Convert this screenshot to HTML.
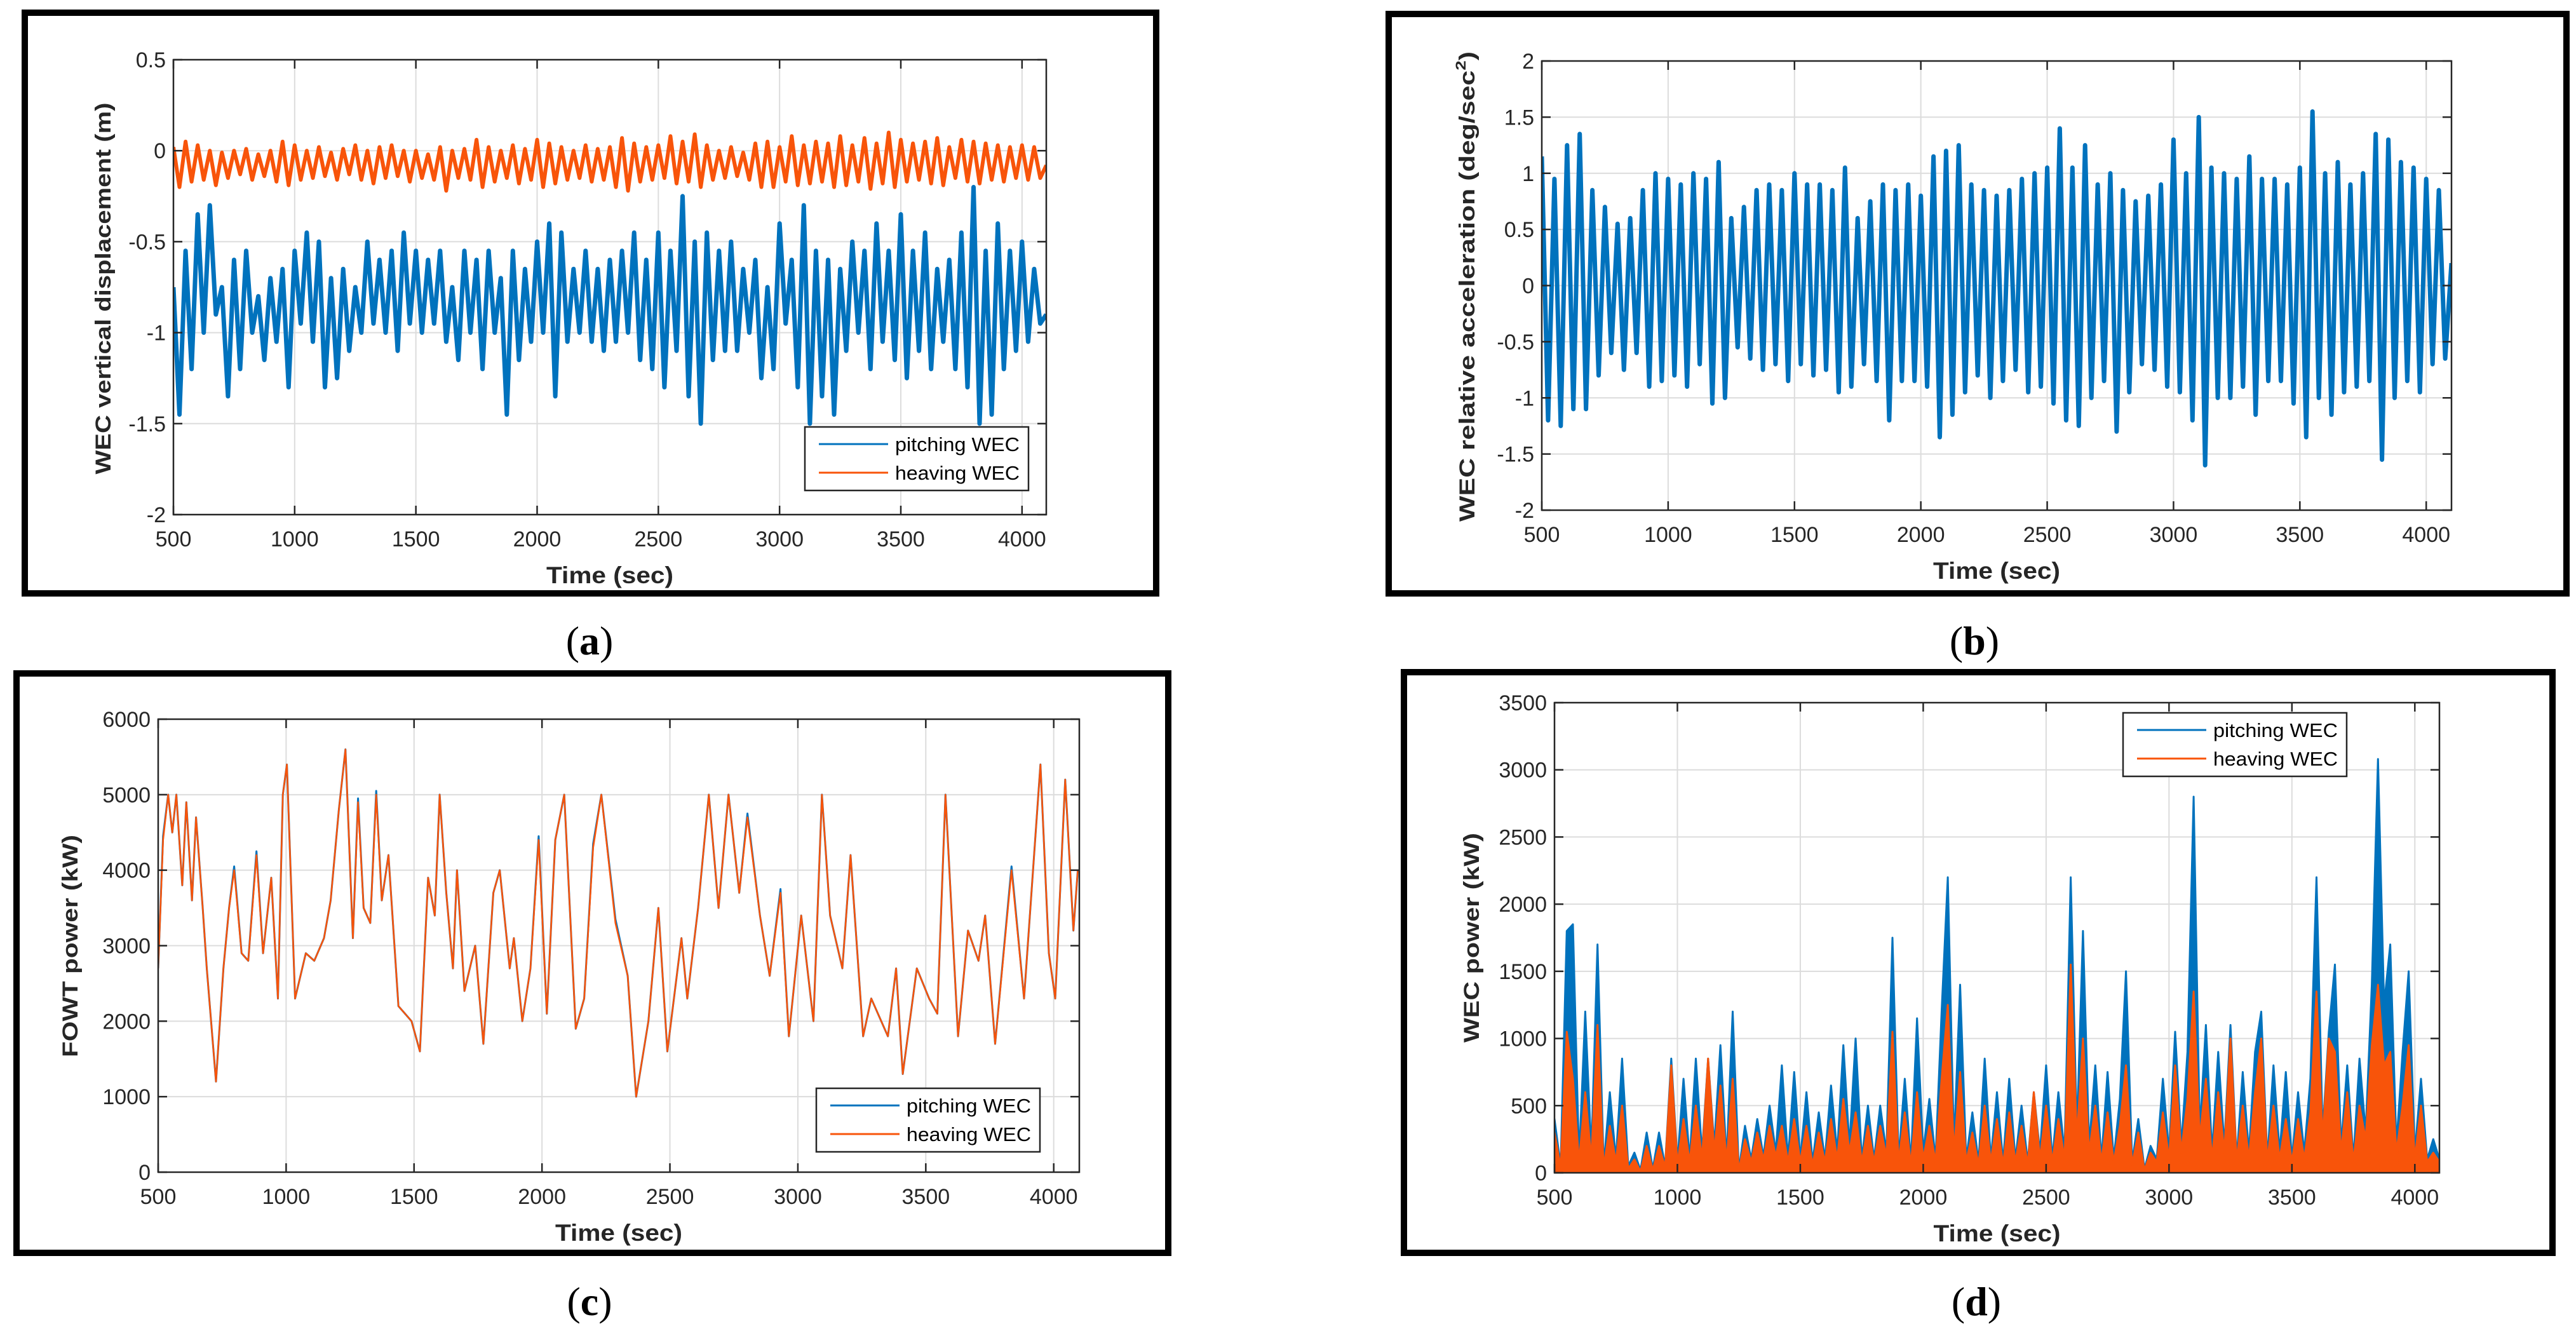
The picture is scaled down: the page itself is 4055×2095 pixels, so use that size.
<!DOCTYPE html>
<html><head><meta charset="utf-8"><style>
html,body{margin:0;padding:0;background:#fff;}
svg{display:block;}
</style></head><body>
<svg id="fig" width="4055" height="2095" viewBox="0 0 4055 2095" xmlns="http://www.w3.org/2000/svg" font-family="Liberation Sans, Arial, sans-serif"></svg>
<script>
// ---------- shared axis data ----------
const tStart = 500, tStep = 25;
const xTickVals = [500,1000,1500,2000,2500,3000,3500,4000];
const xTickLabels = ["500","1000","1500","2000","2500","3000","3500","4000"];

// ---------- panel (a) ----------
const aYTicks = [-2,-1.5,-1,-0.5,0,0.5];
const aYTickLabels = ["-2","-1.5","-1","-0.5","0","0.5"];
const aPitching = [
-0.75,-1.45,-0.55,-1.2, -0.35,-1.0,-0.3,-0.9, -0.75,-1.35,-0.6,-1.2, -0.55,-1.0,-0.8,-1.15,
-0.7,-1.05,-0.65,-1.3, -0.55,-0.95,-0.45,-1.05, -0.5,-1.3,-0.7,-1.25, -0.65,-1.1,-0.75,-1.0,
-0.5,-0.95,-0.6,-1.0, -0.55,-1.1,-0.45,-0.95, -0.55,-1.0,-0.6,-0.95, -0.55,-1.05,-0.75,-1.15,
-0.55,-1.0,-0.6,-1.2, -0.55,-1.0,-0.7,-1.45, -0.55,-1.15,-0.65,-1.05, -0.5,-1.0,-0.4,-1.35,
-0.45,-1.05,-0.65,-1.0, -0.55,-1.05,-0.65,-1.1, -0.6,-1.05,-0.55,-1.0, -0.45,-1.15,-0.6,-1.2,
-0.45,-1.3,-0.55,-1.1, -0.25,-1.35,-0.5,-1.5, -0.45,-1.15,-0.55,-1.1, -0.5,-1.1,-0.65,-1.0,
-0.6,-1.25,-0.75,-1.2, -0.4,-0.95,-0.6,-1.3, -0.3,-1.5,-0.55,-1.35, -0.6,-1.45,-0.65,-1.1,
-0.5,-1.0,-0.55,-1.2, -0.4,-1.05,-0.55,-1.15, -0.35,-1.25,-0.55,-1.1, -0.45,-1.2,-0.65,-1.05,
-0.6,-1.2,-0.45,-1.3, -0.2,-1.5,-0.55,-1.45, -0.4,-1.2,-0.55,-1.1, -0.5,-1.05,-0.65,-0.95, -0.9];
const aHeaving = [
0.02,-0.2,0.05,-0.17, 0.03,-0.16,0.0,-0.19, -0.01,-0.15,0.0,-0.13, 0.01,-0.16,-0.02,-0.14,
0.0,-0.17,0.05,-0.19, 0.03,-0.16,0.0,-0.15, 0.02,-0.14,-0.01,-0.16, 0.01,-0.13,0.03,-0.16,
0.0,-0.18,0.02,-0.15, 0.03,-0.14,0.0,-0.17, 0.0,-0.15,-0.02,-0.16, 0.02,-0.22,0.0,-0.15,
0.01,-0.16,0.06,-0.2, 0.02,-0.17,0.0,-0.15, 0.03,-0.18,0.01,-0.16, 0.06,-0.2,0.04,-0.18,
0.02,-0.16,0.0,-0.15, 0.03,-0.17,0.01,-0.16, 0.02,-0.2,0.07,-0.22, 0.04,-0.17,0.02,-0.16,
0.03,-0.15,0.08,-0.18, 0.05,-0.17,0.09,-0.2, 0.03,-0.16,0.0,-0.15, 0.02,-0.14,-0.01,-0.16,
0.04,-0.2,0.05,-0.2, 0.02,-0.17,0.08,-0.19, 0.03,-0.18,0.05,-0.17, 0.04,-0.2,0.08,-0.19,
0.03,-0.17,0.07,-0.21, 0.04,-0.18,0.1,-0.2, 0.06,-0.17,0.04,-0.16, 0.05,-0.18,0.07,-0.19,
0.02,-0.15,0.06,-0.17, 0.05,-0.18,0.04,-0.16, 0.03,-0.17,0.02,-0.15, 0.03,-0.16,0.02,-0.15, -0.08];

// ---------- panel (b) ----------
const bYTicks = [-2,-1.5,-1,-0.5,0,0.5,1,1.5,2];
const bYTickLabels = ["-2","-1.5","-1","-0.5","0","0.5","1","1.5","2"];
const bPitching = [
1.15,-1.2,0.95,-1.25, 1.25,-1.1,1.35,-1.1, 0.85,-0.8,0.7,-0.6, 0.55,-0.75,0.6,-0.6,
0.85,-0.9,1.0,-0.85, 0.95,-0.8,0.9,-0.9, 1.0,-0.7,0.95,-1.05, 1.1,-1.0,0.6,-0.55,
0.7,-0.65,0.85,-0.75, 0.9,-0.7,0.85,-0.85, 1.0,-0.7,0.9,-0.8, 0.9,-0.75,0.85,-0.95,
1.05,-0.9,0.6,-0.7, 0.75,-0.85,0.9,-1.2, 0.85,-0.85,0.9,-0.85, 0.8,-0.9,1.15,-1.35,
1.2,-1.15,1.25,-0.95, 0.9,-0.8,0.85,-1.0, 0.8,-0.85,0.85,-0.75, 0.95,-0.95,1.0,-0.9,
1.05,-1.05,1.4,-1.2, 1.05,-1.25,1.25,-1.0, 0.9,-0.85,1.0,-1.3, 0.85,-0.95,0.75,-0.7,
0.8,-0.75,0.9,-0.9, 1.3,-0.95,1.0,-1.2, 1.5,-1.6,1.05,-1.0, 1.0,-1.0,0.95,-0.9,
1.15,-1.15,0.95,-0.85, 0.95,-0.85,0.9,-1.05, 1.05,-1.35,1.55,-1.0, 1.0,-1.15,1.1,-0.95,
0.9,-0.9,1.0,-0.85, 1.35,-1.55,1.3,-1.0, 1.1,-0.85,1.05,-0.95, 0.95,-0.7,0.85,-0.65, 0.2];

// ---------- panel (c) ----------
const cYTicks = [0,1000,2000,3000,4000,5000,6000];
const cYTickLabels = ["0","1000","2000","3000","4000","5000","6000"];
const cTimes = [500,519,539,555,571,594,610,632,648,674,690,726,755,777,797,826,852,884,910,942,968,987,1003,1035,1077,1110,1148,1174,1206,1232,1261,1281,1303,1329,1352,1374,1400,1439,1490,1523,1555,1581,1600,1626,1652,1668,1697,1739,1771,1810,1835,1874,1890,1923,1955,1987,2019,2052,2087,2132,2165,2200,2232,2287,2335,2368,2416,2455,2490,2545,2568,2610,2652,2690,2729,2771,2803,2852,2890,2932,2965,3013,3061,3094,3126,3174,3206,3255,3287,3352,3384,3410,3465,3513,3545,3577,3626,3665,3706,3732,3771,3835,3884,3948,3981,4006,4045,4077,4094];
const cHeaving = [2700,4400,5000,4500,5000,3800,4900,3600,4700,3500,2700,1200,2700,3500,4000,2900,2800,4200,2900,3900,2300,5000,5400,2300,2900,2800,3100,3600,4800,5600,3100,4900,3500,3300,5000,3600,4200,2200,2000,1600,3900,3400,5000,3700,2700,4000,2400,3000,1700,3700,4000,2700,3100,2000,2700,4400,2100,4400,5000,1900,2300,4300,5000,3300,2600,1000,2000,3500,1600,3100,2300,3500,5000,3500,5000,3700,4700,3400,2600,3700,1800,3400,2000,5000,3400,2700,4200,1800,2300,1800,2700,1300,2700,2300,2100,5000,1800,3200,2800,3400,1700,4000,2300,5400,2900,2300,5200,3200,4000];
const cPitching = [2700,4450,5000,4500,5000,3800,4900,3600,4700,3500,2700,1200,2700,3500,4050,2900,2800,4250,2900,3900,2300,5000,5400,2300,2900,2800,3100,3600,4800,5600,3100,4950,3500,3300,5050,3600,4200,2200,2000,1600,3900,3400,5000,3700,2700,4000,2400,3000,1700,3700,4000,2700,3100,2000,2700,4450,2100,4400,5000,1900,2300,4350,5000,3350,2600,1000,2000,3500,1600,3100,2300,3500,5000,3500,5000,3700,4750,3400,2600,3750,1800,3400,2000,5000,3400,2700,4200,1800,2300,1800,2700,1300,2700,2300,2100,5000,1800,3200,2800,3400,1700,4050,2300,5400,2900,2300,5200,3200,4000];

// ---------- panel (d) ----------
const dYTicks = [0,500,1000,1500,2000,2500,3000,3500];
const dYTickLabels = ["0","500","1000","1500","2000","2500","3000","3500"];
const dPitching = [
400,50,1800,1850,100,1200,150,1700,50,600,100,850,50,150,20,300,30,300,50,850,
80,700,100,850,150,850,200,950,100,1200,20,350,100,400,120,500,150,800,100,750,
100,600,80,450,100,650,150,950,200,1000,100,500,100,500,150,1750,100,700,80,1150,
150,550,100,1200,2200,200,1400,100,450,80,850,100,600,80,700,100,500,80,600,150,
800,100,600,150,2200,300,1800,200,800,100,750,100,550,1500,80,400,30,200,100,700,
150,1050,200,900,2800,300,1100,150,900,200,1100,100,750,150,900,1200,100,800,150,750,
100,600,150,700,2200,300,1050,1550,200,800,100,850,300,1400,3080,1250,1700,200,900,1500,
150,700,100,250,100];
const dHeaving = [
300,40,1050,700,80,600,100,1100,40,350,80,500,30,100,10,200,20,200,40,800,
60,400,80,500,100,850,150,650,80,700,15,250,80,300,100,350,120,350,80,400,
80,350,60,300,80,400,100,550,150,450,80,350,80,350,120,1050,80,450,60,600,
100,350,80,700,1250,150,750,80,300,60,500,80,400,60,450,80,350,60,600,100,
500,80,400,100,1550,250,1000,150,500,80,450,80,350,800,60,300,20,150,80,450,
100,800,150,550,1350,250,700,100,600,150,1000,80,500,100,600,1000,80,500,100,400,
80,400,100,450,1350,250,1000,900,150,600,80,500,250,950,1400,800,900,150,500,950,
100,500,80,150,80];

// ---------- rendering helpers ----------
const svg = document.getElementById('fig');
const NS = 'http://www.w3.org/2000/svg';
function mk(tag, attrs, parent){
  const e = document.createElementNS(NS, tag);
  for (const k in attrs) e.setAttribute(k, attrs[k]);
  (parent||svg).appendChild(e);
  return e;
}
const BLUE = '#0072BD', ORANGE = '#F8540A';

function panel(p){
  const g = mk('g', {});
  
  
  const fr = mk('rect', {x:p.fx, y:p.fy, width:p.fw, height:p.fh, fill:'#fff', stroke:'#000', 'stroke-width':10}, g);
  
  
  const X = t => p.ax + (t - 500) / (4100 - 500) * p.aw;
  const Y = v => p.ay + p.ah - (v - p.ymin) / (p.ymax - p.ymin) * p.ah;
  const grid = mk('g', {stroke:'#dcdcdc', 'stroke-width':2}, g);
  
  
  xTickVals.forEach(t => mk('line', {x1:X(t), x2:X(t), y1:p.ay, y2:p.ay+p.ah}, grid));
  p.yt.forEach(v => mk('line', {x1:p.ax, x2:p.ax+p.aw, y1:Y(v), y2:Y(v)}, grid));
  const cid = 'clip-' + p.name;
  const cp = mk('clipPath', {id:cid}, g);
  mk('rect', {x:p.ax, y:p.ay, width:p.aw, height:p.ah}, cp);
  const plot = mk('g', {'clip-path':'url(#'+cid+')'}, g);
  p.series.forEach(s => {
    const times = s.times || s.vals.map((v,i) => tStart + tStep*i);
    let pts = s.vals.map((v,i) => X(times[i]).toFixed(1)+','+Y(v).toFixed(1));
    let el;
    if (s.area){
      pts = [X(times[0]).toFixed(1)+','+Y(0)].concat(pts, [X(times[times.length-1]).toFixed(1)+','+Y(0)]);
      el = mk('polygon', {points:pts.join(' '), fill:s.color, stroke:s.color, 'stroke-width':3, 'stroke-linejoin':'round'}, plot);
    } else {
      el = mk('polyline', {points:pts.join(' '), fill:'none', stroke:s.color, 'stroke-width':s.w||2.6, 'stroke-linejoin':'round'}, plot);
    }
    
    
  });
  const box = mk('rect', {x:p.ax, y:p.ay, width:p.aw, height:p.ah, fill:'none', stroke:'#262626', 'stroke-width':2.5}, g);
  
  
  const tk = mk('g', {stroke:'#262626', 'stroke-width':2.5}, g);
  xTickVals.forEach(t => { mk('line', {x1:X(t), x2:X(t), y1:p.ay+p.ah, y2:p.ay+p.ah-14}, tk); mk('line', {x1:X(t), x2:X(t), y1:p.ay, y2:p.ay+14}, tk); });
  p.yt.forEach(v => { mk('line', {x1:p.ax, x2:p.ax+14, y1:Y(v), y2:Y(v)}, tk); mk('line', {x1:p.ax+p.aw, x2:p.ax+p.aw-14, y1:Y(v), y2:Y(v)}, tk); });
  xTickVals.forEach((t,i) => {
    const tx = mk('text', {x:X(t), y:p.ay+p.ah+50, 'font-size':34, fill:'#262626', 'text-anchor':'middle'}, g);
    tx.textContent = xTickLabels[i];
    
    
  });
  p.yt.forEach((v,i) => {
    const tx = mk('text', {x:p.ax-12, y:Y(v)+12, 'font-size':34, fill:'#262626', 'text-anchor':'end'}, g);
    tx.textContent = p.ytl[i];
    
    
  });
  const xl = mk('text', {x:p.ax+p.aw/2, y:p.ay+p.ah+108, 'font-size':37, 'font-weight':'bold', fill:'#262626', 'text-anchor':'middle', textLength:200, lengthAdjust:'spacingAndGlyphs'}, g);
  xl.textContent = 'Time (sec)';
  
  
  const yl = mk('text', {x:0, y:0, 'font-size':34, 'font-weight':'bold', fill:'#262626', 'text-anchor':'middle', textLength:p.ylLen, lengthAdjust:'spacingAndGlyphs', transform:'translate('+p.ylx+','+p.yly+') rotate(-90)'}, g);
  yl.innerHTML = p.ylabel;
  
  
  if (p.leg){
    const lg = mk('g', {}, g);
    
    
    mk('rect', {x:p.leg.x, y:p.leg.y, width:352, height:100, fill:'#fff', stroke:'#262626', 'stroke-width':2.5}, lg);
    [['pitching WEC', BLUE], ['heaving WEC', ORANGE]].forEach((e,i) => {
      const yy = p.leg.y + 27 + i*45;
      const ln = mk('line', {x1:p.leg.x+22, x2:p.leg.x+131, y1:yy, y2:yy, stroke:e[1], 'stroke-width':3}, lg);
      
      
      const tx = mk('text', {x:p.leg.x+142, y:yy+11, 'font-size':31, fill:'#000', textLength:196, lengthAdjust:'spacingAndGlyphs'}, lg);
      tx.textContent = e[0];
      
      
    });
  }
  const pl = mk('text', {x:p.labx, y:p.laby, 'font-size':64, fill:'#000', 'text-anchor':'middle', 'font-family':'Liberation Serif, serif'}, g);
  pl.innerHTML = '(<tspan font-weight="bold">' + p.lab + '</tspan>)';
  
  
}

panel({name:'panel-a', fx:39, fy:20, fw:1781, fh:914, ax:273, ay:94, aw:1374, ah:716, ymin:-2, ymax:0.5, yt:aYTicks, ytl:aYTickLabels,
  ylabel:'WEC vertical displacement (m)', ylx:174, yly:454, ylLen:585,
  series:[{name:'pitching-wec-line', vals:aPitching, color:BLUE, w:7},{name:'heaving-wec-line', vals:aHeaving, color:ORANGE, w:6}],
  leg:{x:1267, y:672}, lab:'a', labx:928, laby:1030});
panel({name:'panel-b', fx:2186, fy:22, fw:1854, fh:912, ax:2427, ay:96, aw:1432, ah:707, ymin:-2, ymax:2, yt:bYTicks, ytl:bYTickLabels,
  ylabel:'WEC relative acceleration (deg/sec<tspan font-size="22" dy="-14">2</tspan><tspan dy="14">)</tspan>', ylx:2321, yly:451, ylLen:740,
  series:[{name:'pitching-wec-line', vals:bPitching, color:BLUE, w:7}],
  lab:'b', labx:3108, laby:1030});
panel({name:'panel-c', fx:26, fy:1060, fw:1813, fh:912, ax:249, ay:1132, aw:1450, ah:713, ymin:0, ymax:6000, yt:cYTicks, ytl:cYTickLabels,
  ylabel:'FOWT power (kW)', ylx:122, yly:1489, ylLen:350,
  series:[{name:'pitching-wec-line', vals:cPitching, times:cTimes, color:BLUE, w:3},{name:'heaving-wec-line', vals:cHeaving, times:cTimes, color:ORANGE, w:2.6}],
  leg:{x:1285, y:1713}, lab:'c', labx:928, laby:2070});
panel({name:'panel-d', fx:2210, fy:1058, fw:1808, fh:914, ax:2447, ay:1106, aw:1393, ah:740, ymin:0, ymax:3500, yt:dYTicks, ytl:dYTickLabels,
  ylabel:'WEC power (kW)', ylx:2328, yly:1476, ylLen:330,
  series:[{name:'pitching-wec-area', vals:dPitching, color:BLUE, area:true},{name:'heaving-wec-area', vals:dHeaving, color:ORANGE, area:true}],
  leg:{x:3342, y:1122}, lab:'d', labx:3111, laby:2070});
</script>
</body></html>
